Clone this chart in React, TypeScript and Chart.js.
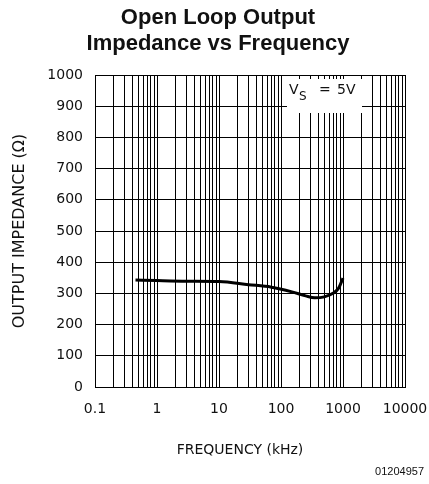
import React, { useEffect, useRef } from "react";
import { Chart, registerables } from "chart.js";

Chart.register(...registerables);

// ---- Data ----
const frequencyKHz = [0.45, 1, 3, 10, 30, 70, 150, 250, 350, 500, 700, 850, 1000];
const impedanceOhm = [343, 341, 339, 338, 328, 320, 305, 292, 286, 289, 301, 317, 349];

const xDecades = [0.1, 1, 10, 100, 1000, 10000];
const xDecadeLabels = ["0.1", "1", "10", "100", "1000", "10000"];
const xMinorMultipliers = [1, 2, 3, 4, 5, 6, 7, 8, 9];
const yMin = 0;
const yMax = 1000;
const yStep = 100;

const titleLines = ["Open Loop Output", "Impedance vs Frequency"];
const xAxisTitle = "FREQUENCY (kHz)";
const yAxisTitle = "OUTPUT IMPEDANCE (\u03A9)";
const conditionMain = "V";
const conditionSub = "S";
const conditionEq = "=";
const conditionValue = "5V";
const figureId = "01204957";

// grid positions for the log axis: 1..9 in each decade, plus the last decade
const xGridValues: number[] = [];
xDecades.slice(0, -1).forEach((d) => {
  xMinorMultipliers.forEach((m) => xGridValues.push(parseFloat((d * m).toPrecision(6))));
});
xGridValues.push(xDecades[xDecades.length - 1]);

const AXIS_FONT = '"DejaVu Sans", sans-serif';
const TITLE_FONT = '"Liberation Sans", Arial, sans-serif';

const textPlugin = {
  id: "customTexts",
  afterDraw(chart: any) {
    const ctx = chart.ctx as CanvasRenderingContext2D;
    const area = chart.chartArea;
    ctx.save();
    ctx.fillStyle = "#111";

    // Title
    ctx.font = `bold 22px ${TITLE_FONT}`;
    ctx.textAlign = "center";
    ctx.textBaseline = "middle";
    ctx.fillText(titleLines[0], 218, 18);
    ctx.fillText(titleLines[1], 218, 44);

    // Condition box
    const bx = chart.scales.x.getPixelForValue(100) + 6;
    const bw = 75;
    ctx.fillStyle = "#fff";
    ctx.fillRect(bx, area.top + 4, bw, 34);
    ctx.fillStyle = "#111";
    ctx.textAlign = "left";
    ctx.font = `14px ${AXIS_FONT}`;
    ctx.fillText(conditionMain, bx + 2, area.top + 15);
    ctx.font = `12px ${AXIS_FONT}`;
    ctx.fillText(conditionSub, bx + 12, area.top + 22);
    ctx.font = `14px ${AXIS_FONT}`;
    ctx.fillText(conditionEq, bx + 32, area.top + 15);
    ctx.fillText(conditionValue, bx + 50, area.top + 15);

    // X axis title
    ctx.textAlign = "center";
    ctx.font = `14px ${AXIS_FONT}`;
    ctx.fillText(xAxisTitle, 240, 450);

    // Y axis title
    ctx.save();
    ctx.translate(20, 231);
    ctx.rotate(-Math.PI / 2);
    ctx.font = `16px ${AXIS_FONT}`;
    ctx.fillText(yAxisTitle, 0, 0);
    ctx.restore();

    // Figure id
    ctx.textAlign = "right";
    ctx.font = `11px ${TITLE_FONT}`;
    ctx.fillText(figureId, 424, 472);

    ctx.restore();
  },
};

export default function App() {
  const canvasRef = useRef<HTMLCanvasElement | null>(null);

  useEffect(() => {
    document.body.style.margin = "0";
    const canvas = canvasRef.current;
    if (!canvas) return;

    const chart = new Chart(canvas, {
      type: "line",
      data: {
        datasets: [
          {
            data: frequencyKHz.map((f, i) => ({ x: f, y: impedanceOhm[i] })),
            borderColor: "#000",
            borderWidth: 3,
            pointRadius: 0,
            fill: false,
            cubicInterpolationMode: "monotone",
          },
        ],
      },
      options: {
        responsive: false,
        animation: false,
        devicePixelRatio: 1,
        layout: { padding: { top: 75, right: 24, bottom: 0, left: 0 } },
        plugins: {
          legend: { display: false },
          title: { display: false },
          tooltip: { enabled: false },
        },
        scales: {
          x: {
            type: "logarithmic",
            min: xDecades[0],
            max: xDecades[xDecades.length - 1],
            afterBuildTicks: (scale: any) => {
              scale.ticks = xGridValues.map((v) => ({ value: v }));
            },
            afterFit: (scale: any) => {
              scale.height = 97;
              scale.paddingLeft = 0;
              scale.paddingRight = 0;
            },
            grid: { color: "#000", lineWidth: 1, drawTicks: false },
            border: { display: true, color: "#000", width: 1 },
            ticks: {
              autoSkip: false,
              maxRotation: 0,
              minRotation: 0,
              padding: 14,
              color: "#111",
              font: { family: AXIS_FONT, size: 14 },
              callback: (value: any) => {
                const v = Number(value);
                const idx = xDecades.findIndex((d) => Math.abs(d - v) / d < 1e-6);
                return idx >= 0 ? xDecadeLabels[idx] : "";
              },
            },
          },
          y: {
            type: "linear",
            min: yMin,
            max: yMax,
            afterFit: (scale: any) => {
              scale.width = 95;
            },
            grid: { color: "#000", lineWidth: 1, drawTicks: false },
            border: { display: true, color: "#000", width: 1 },
            ticks: {
              stepSize: yStep,
              padding: 12,
              color: "#111",
              font: { family: AXIS_FONT, size: 14 },
              callback: (value: any) => String(value),
            },
          },
        },
      },
      plugins: [textPlugin],
    });

    return () => chart.destroy();
  }, []);

  return (
    <div style={{ width: 429, height: 484 }}>
      <canvas ref={canvasRef} width={429} height={484} />
    </div>
  );
}
